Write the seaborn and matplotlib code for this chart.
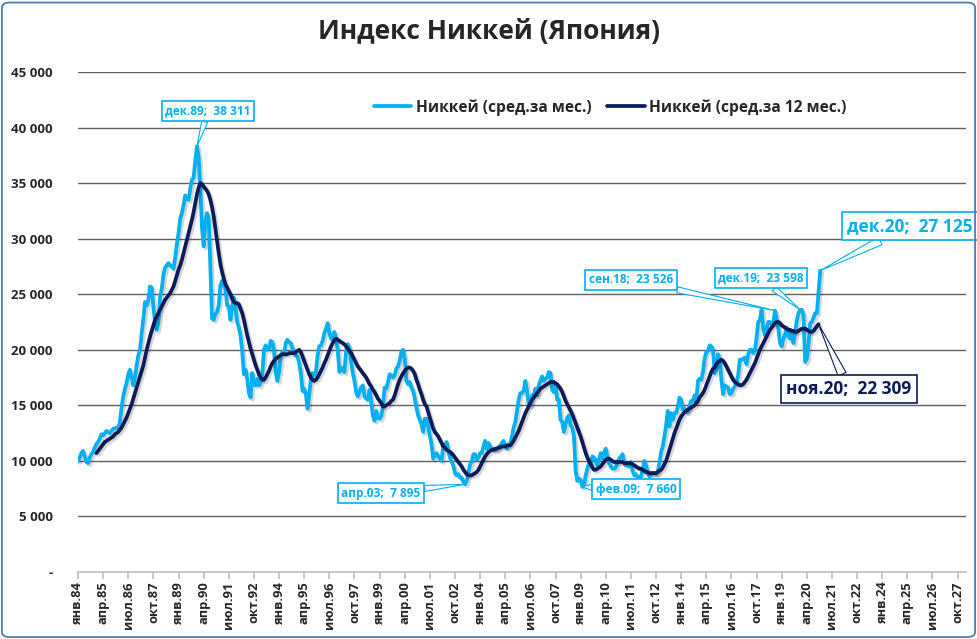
import matplotlib
matplotlib.use("Agg")
import numpy as np
import pandas as pd
import seaborn as sns
import matplotlib.pyplot as plt
from matplotlib import patheffects as pe
from matplotlib.patches import FancyBboxPatch
from matplotlib.lines import Line2D

# ---------------- data (monthly, Jan 1984 .. Dec 2020) ----------------
nikkei_1984_1989 = [
    10000, 10300, 10700, 10900, 10400, 9900, 9800, 10300, 10600, 10800, 11200, 11500,
    11700, 12000, 12400, 12300, 12500, 12700, 12600, 12500, 12700, 12900, 12900, 13000,
    13000, 13500, 14800, 15800, 16500, 17000, 17800, 18200, 17500, 16800, 17500, 18600,
    19500, 20000, 21500, 22800, 24300, 24000, 24500, 25700, 25600, 23800, 22500, 21800,
    22500, 24800, 25500, 26800, 27400, 27600, 27800, 27600, 27500, 27300, 28300, 29500,
    30500, 31800, 32300, 33000, 33900, 33600, 33500, 34500, 35300, 35500, 37000, 38311]
nikkei_1990_1999 = [
    37300, 34500, 31000, 29300, 31500, 32300, 31800, 27500, 22800, 22700, 23200, 23400,
    24000, 25800, 26200, 25800, 25500, 24000, 23900, 22700, 23800, 24700, 23800, 22500,
    22000, 21300, 19900, 17800, 18200, 17400, 16100, 15700, 17900, 17000, 16800, 17400,
    16800, 17000, 17800, 20000, 20400, 20000, 20100, 20800, 20700, 19900, 18000, 17200,
    18000, 19500, 19800, 19700, 20600, 20900, 20700, 20600, 20100, 19800, 19500, 19400,
    18800, 17900, 16300, 16500, 16000, 14700, 16000, 17400, 17900, 17700, 18000, 19500,
    20300, 20400, 20800, 21500, 21900, 22400, 21500, 21000, 21300, 21600, 21000, 20000,
    18000, 18400, 18200, 18000, 19900, 20500, 20200, 18900, 17900, 17200, 16200, 15800,
    16200, 16600, 16800, 15800, 15600, 15500, 16400, 15300, 14100, 13600, 14500, 13900,
    13800, 14000, 15000, 16600, 16500, 17100, 17800, 17700, 17500, 17700, 18300, 18500]
nikkei_2000_2009 = [
    19000, 19800, 20000, 19200, 17200, 16900, 17100, 16600, 16300, 15600, 14800, 14100,
    13700, 13300, 12600, 13800, 13800, 13100, 12200, 11500, 10200, 10500, 10700, 10400,
    10200, 10000, 11300, 11400, 11700, 10900, 10300, 9900, 9600, 8900, 8700, 8800,
    8500, 8500, 8100, 7895, 8200, 8900, 9700, 9900, 10600, 10600, 10100, 10300,
    10700, 10700, 11300, 11800, 11100, 11600, 11300, 11100, 11000, 11000, 11000, 11200,
    11400, 11600, 11800, 11300, 11100, 11400, 11600, 12200, 13000, 13500, 14500, 15500,
    16100, 16100, 16300, 17200, 16300, 15000, 15000, 15900, 15900, 16500, 15900, 16800,
    17200, 17600, 17200, 17400, 17500, 18000, 17900, 16400, 16200, 16900, 15500, 15500,
    13700, 13500, 12600, 13300, 13900, 14100, 13200, 13000, 12200, 9100, 8200, 8400,
    8300, 7660, 7800, 8700, 9300, 9800, 9700, 10400, 10300, 10000, 9600, 10200]
nikkei_2010_2020 = [
    10700, 10200, 10800, 11100, 10300, 9800, 9500, 9300, 9300, 9400, 9900, 10200,
    10400, 10600, 9800, 9600, 9700, 9500, 9900, 9100, 8700, 8800, 8500, 8500,
    8600, 9200, 10000, 9600, 8900, 8600, 8800, 8900, 8900, 8800, 9000, 9800,
    10800, 11300, 12200, 13200, 14500, 13100, 14300, 13700, 14300, 14300, 14900, 15700,
    15500, 14600, 14700, 14400, 14400, 15000, 15400, 15400, 15900, 15300, 17200, 17400,
    17300, 18000, 19200, 19800, 19900, 20400, 20300, 20000, 17900, 18200, 19600, 19200,
    17300, 16000, 16800, 16700, 16600, 16000, 16100, 16500, 16700, 17000, 17700, 19100,
    19100, 19200, 19300, 18700, 19600, 20000, 20000, 19700, 19900, 21100, 22500, 22700,
    23600, 21900, 21300, 21900, 22500, 22500, 22300, 22400, 23526, 22700, 21900, 20600,
    20300, 21000, 21400, 22000, 21200, 21000, 21500, 20600, 21600, 22600, 23300, 23598,
    23600, 23100, 18900, 19200, 20500, 22400, 22500, 22900, 23300, 23300, 25200, 27125]

# 12-month average, Dec 1984 .. Nov 2020
ma_1984_1989 = [10700,
    10900, 11100, 11300, 11500, 11700, 11800, 11900, 12000, 12100, 12200, 12400, 12500,
    12600, 12800, 13000, 13300, 13600, 13900, 14300, 14700, 15100, 15600, 16100, 16600,
    17100, 17600, 18100, 18600, 19300, 20000, 20600, 21200, 21700, 22200, 22700, 23000,
    23300, 23600, 23900, 24200, 24500, 24700, 24900, 25100, 25400, 25700, 26200, 26700,
    27200, 27600, 28100, 28700, 29300, 29900, 30500, 31100, 31700, 32400, 33200, 34000]
ma_1990_1999 = [
    34600, 35000, 34900, 34700, 34500, 34300, 34000, 33500, 32800, 32000, 30900, 29800,
    28700, 27700, 27000, 26400, 25900, 25600, 25300, 25000, 24600, 24300, 24200, 24200,
    24100, 23700, 23300, 22700, 22000, 21300, 20700, 20100, 19600, 19100, 18600, 18200,
    17800, 17500, 17300, 17300, 17500, 17800, 18100, 18500, 18800, 19000, 19200, 19300,
    19400, 19500, 19600, 19600, 19600, 19600, 19700, 19700, 19700, 19700, 19800, 19900,
    20000, 19800, 19400, 19000, 18600, 18200, 17800, 17500, 17300, 17200, 17300, 17500,
    17800, 18100, 18400, 18800, 19100, 19500, 19900, 20300, 20600, 20900, 21000, 20900,
    20800, 20700, 20600, 20500, 20300, 20100, 19900, 19700, 19400, 19100, 18800, 18500,
    18300, 18100, 17900, 17700, 17500, 17200, 16900, 16700, 16400, 16200, 15900, 15600,
    15400, 15200, 14900, 14900, 15000, 15100, 15200, 15400, 15500, 15900, 16400, 16900]
ma_2000_2009 = [
    17300, 17600, 17900, 18100, 18300, 18400, 18400, 18300, 18100, 17800, 17300, 16900,
    16400, 16000, 15500, 15100, 14900, 14400, 13900, 13400, 12900, 12600, 12400, 12200,
    11900, 11600, 11300, 11200, 11000, 10900, 10800, 10700, 10500, 10300, 10100, 9900,
    9700, 9500, 9200, 9000, 8800, 8700, 8700, 8700, 8800, 8900, 9000, 9200,
    9500, 9800, 10100, 10400, 10600, 10800, 10900, 11000, 11000, 11100, 11100, 11200,
    11200, 11300, 11300, 11300, 11400, 11400, 11400, 11600, 11800, 12100, 12400, 12700,
    13100, 13500, 13900, 14300, 14600, 14900, 15200, 15500, 15700, 15900, 16100, 16300,
    16500, 16600, 16700, 16800, 16900, 17000, 17100, 17100, 17100, 17000, 16900, 16700,
    16500, 16200, 15800, 15400, 15100, 14800, 14500, 14200, 13800, 13400, 13000, 12600,
    12200, 11700, 11200, 10700, 10300, 10000, 9700, 9400, 9200, 9200, 9300, 9400]
ma_2010_2020 = [
    9500, 9700, 9900, 10100, 10200, 10200, 10100, 10000, 9900, 9900, 9900, 9900,
    9900, 9900, 9800, 9800, 9800, 9800, 9800, 9700, 9600, 9500, 9400, 9300,
    9300, 9200, 9100, 9000, 9000, 8900, 8900, 8900, 8900, 8900, 9000, 9100,
    9200, 9400, 9700, 10000, 10500, 11000, 11500, 12000, 12500, 12900, 13300, 13700,
    14000, 14200, 14400, 14500, 14600, 14700, 14800, 14900, 15000, 15200, 15400, 15700,
    15900, 16100, 16400, 16800, 17200, 17600, 18000, 18300, 18400, 18700, 18900, 19000,
    19100, 19000, 18800, 18500, 18200, 17900, 17600, 17300, 17100, 17000, 16900, 16800,
    16800, 16900, 17100, 17300, 17600, 17900, 18200, 18500, 18800, 19200, 19600, 20000,
    20300, 20600, 20900, 21200, 21500, 21800, 22000, 22200, 22400, 22500, 22500, 22400,
    22200, 22100, 22000, 21900, 21800, 21800, 21700, 21700, 21600, 21600, 21700, 21800,
    21900, 21900, 21900, 21800, 21700, 21600, 21600, 21700, 21900, 22100, 22309]

month_names = ["янв", "фев", "мар", "апр", "май", "июн",
               "июл", "авг", "сен", "окт", "ноя", "дек"]
start_year = 1984
n_categories = 530          # category axis runs on to early 2028
tick_step = 15

series_names = ["Никкей (сред.за мес.)", "Никкей (сред.за 12 мес.)"]
title = "Индекс Никкей (Япония)"

# --------------- build frames ----------------
monthly = nikkei_1984_1989 + nikkei_1990_1999 + nikkei_2000_2009 + nikkei_2010_2020
ma12 = ma_1984_1989 + ma_1990_1999 + ma_2000_2009 + ma_2010_2020
ma_start = 11  # first 12-month average at Dec 1984

df = pd.concat([
    pd.DataFrame({"idx": np.arange(len(monthly)), "val": monthly, "s": series_names[0]}),
    pd.DataFrame({"idx": np.arange(ma_start, ma_start + len(ma12)), "val": ma12, "s": series_names[1]}),
])

def cat_label(i):
    return f"{month_names[i % 12]}.{(start_year + i // 12) % 100:02d}"

# --------------- figure ----------------
sns.set_theme(style="white")
plt.rcParams["font.family"] = ["Open Sans", "DejaVu Sans"]

light = "#00B0F0"
navy = "#0C1C58"

fig = plt.figure(figsize=(9.78, 6.39), dpi=100)
W, H = 978, 639
ax = fig.add_axes([78 / W, 1 - 572 / H, (966 - 78) / W, (572 - 72) / H])

sns.lineplot(data=df, x="idx", y="val", hue="s", palette=[light, navy],
             linewidth=2.7, ax=ax, legend=False, sort=False)
for ln in ax.get_lines():
    ln.set_path_effects([pe.SimpleLineShadow(offset=(1.5, -1.5), alpha=0.18), pe.Normal()])
    ln.set_solid_joinstyle("round")

ax.set_xlim(0, n_categories)
ax.set_ylim(0, 45000)
yt = np.arange(0, 45001, 5000)
ax.set_yticks(yt)
ax.set_yticklabels(["-" if v == 0 else f"{v:,}".replace(",", " ") for v in yt],
                   fontsize=9.5, fontweight="bold")
xt = np.arange(0, n_categories, tick_step)
ax.set_xticks(xt)
ax.set_xticklabels([cat_label(i) for i in xt], rotation=90, fontsize=9.3, fontweight="bold")
ax.set_xlabel("")
ax.set_ylabel("")

ax.yaxis.grid(True, color="#606060", linewidth=1.0)
ax.get_ygridlines()[0].set_visible(False)
ax.xaxis.grid(False)
for s in ["top", "right", "left"]:
    ax.spines[s].set_visible(False)
ax.spines["bottom"].set_color("#BFBFBF")
ax.tick_params(axis="y", length=0, pad=18)
ax.tick_params(axis="x", length=5, color="#BFBFBF", pad=2, direction="out", bottom=True)

# legend
handles = [Line2D([], [], color=light, lw=2.7), Line2D([], [], color=navy, lw=2.7)]
fig.legend(handles, series_names, loc="upper left", bbox_to_anchor=(360 / W, 1 - 85 / H),
           ncol=2, frameon=False, prop={"weight": "bold", "size": 11.2},
           handlelength=2.4, columnspacing=1.0, handletextpad=0.3)

fig.text(0.5, 1 - 32 / H, title, ha="center", va="center", fontsize=19, fontweight="bold")

# annotations
def note(i, arr, offset, color, text_pos, size, boxcolor=None):
    val = arr[i - offset]
    ax.annotate(f"{cat_label(i)};  {val:,}".replace(",", " "),
                xy=(i, val), xycoords="data",
                xytext=(text_pos[0], H - text_pos[1]), textcoords="figure pixels",
                ha="center", va="center", fontsize=size, fontweight="bold", color=color,
                bbox=dict(boxstyle="square,pad=0.3", fc="white", ec=boxcolor or color, lw=1.2),
                arrowprops=dict(arrowstyle="wedge,tail_width=0.5", fc="white",
                                ec=boxcolor or color, lw=0.8, shrinkA=0, shrinkB=0),
                zorder=6)

def idx_of(year, month):
    return (year - start_year) * 12 + month - 1

note(idx_of(1989, 12), monthly, 0, light, (208, 111), 8.6)
note(idx_of(2003, 4), monthly, 0, light, (381, 493), 8.6)
note(idx_of(2009, 2), monthly, 0, light, (636, 489), 8.6)
note(idx_of(2018, 9), monthly, 0, light, (631, 280), 8.6)
note(idx_of(2019, 12), monthly, 0, light, (761, 278), 8.6)
note(idx_of(2020, 12), monthly, 0, light, (910, 226), 12.5)
note(idx_of(2020, 11), ma12, ma_start, navy, (849, 389), 12.5)

fig.patches.append(FancyBboxPatch((0.002, 0.003), 0.995, 0.993,
                                  boxstyle="round,pad=0,rounding_size=0.008",
                                  transform=fig.transFigure, fill=False,
                                  ec="#4A7EBB", lw=1.3))

fig.savefig("out.png", dpi=100)
